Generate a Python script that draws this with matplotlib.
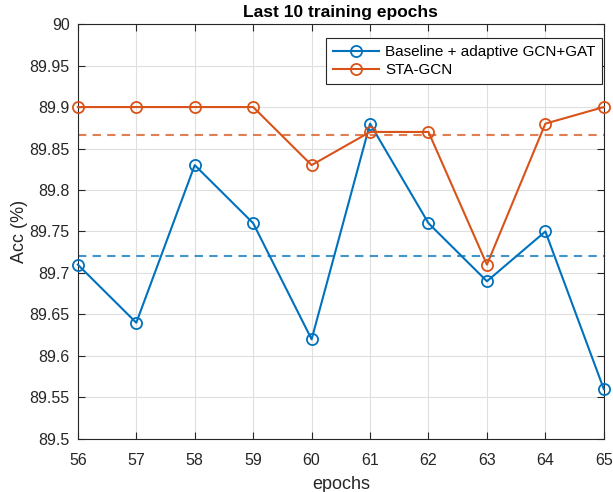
import matplotlib
matplotlib.use('Agg')
import matplotlib.pyplot as plt
import numpy as np

plt.rcParams['font.family'] = ['Liberation Sans', 'DejaVu Sans']

epochs = [56, 57, 58, 59, 60, 61, 62, 63, 64, 65]
baseline = [89.71, 89.64, 89.83, 89.76, 89.62, 89.88, 89.76, 89.69, 89.75, 89.56]
sta_gcn = [89.90, 89.90, 89.90, 89.90, 89.83, 89.87, 89.87, 89.71, 89.88, 89.90]

blue = '#0072BD'
orange = '#D95319'

fig = plt.figure(figsize=(6.13, 4.92), dpi=100)
ax = fig.add_axes([0.127, 0.108, 0.858, 0.843])

ax.plot(epochs, baseline, '-o', color=blue, lw=1.5, ms=8, mfc='none', mew=1.3,
        label='Baseline + adaptive GCN+GAT', clip_on=False, zorder=3)
ax.plot(epochs, sta_gcn, '-o', color=orange, lw=1.5, ms=8, mfc='none', mew=1.3,
        label='STA-GCN', clip_on=False, zorder=3)

# mean lines
ax.axhline(np.mean(baseline), color=blue, ls='--', lw=1.5, alpha=0.75, dashes=(4, 3))
ax.axhline(np.mean(sta_gcn), color=orange, ls='--', lw=1.5, alpha=0.75, dashes=(4, 3))

ax.set_xlim(56, 65)
ax.set_ylim(89.5, 90)
ax.set_xticks(epochs)
ax.set_yticks(np.arange(89.5, 90.001, 0.05))
ax.set_yticklabels(['89.5', '89.55', '89.6', '89.65', '89.7', '89.75',
                    '89.8', '89.85', '89.9', '89.95', '90'])
ax.grid(True, color='#DFDFDF', lw=0.8)
ax.set_axisbelow(True)
ax.tick_params(direction='in', length=5, top=True, right=True, labelsize=11.5,
               colors='#262626', width=0.8)
ax.tick_params(axis='x', pad=10)
ax.tick_params(axis='y', pad=6)
for s in ax.spines.values():
    s.set_color('#262626')
    s.set_linewidth(0.8)

ax.set_xlabel('epochs', fontsize=13, color='#262626', labelpad=6)
ax.set_ylabel('Acc (%)', fontsize=13, color='#262626', labelpad=1)
ax.set_title('Last 10 training epochs', fontsize=12.5, fontweight='bold', color='black', pad=5)

leg = ax.legend(loc='upper right', fontsize=11, frameon=True, fancybox=False,
                edgecolor='#262626', framealpha=1, borderpad=0.45, handlelength=3.0,
                labelspacing=0.25, bbox_to_anchor=(0.997, 0.966), borderaxespad=0,
                handletextpad=0.4)
leg.get_frame().set_linewidth(0.8)

fig.savefig('out.png', dpi=100)
